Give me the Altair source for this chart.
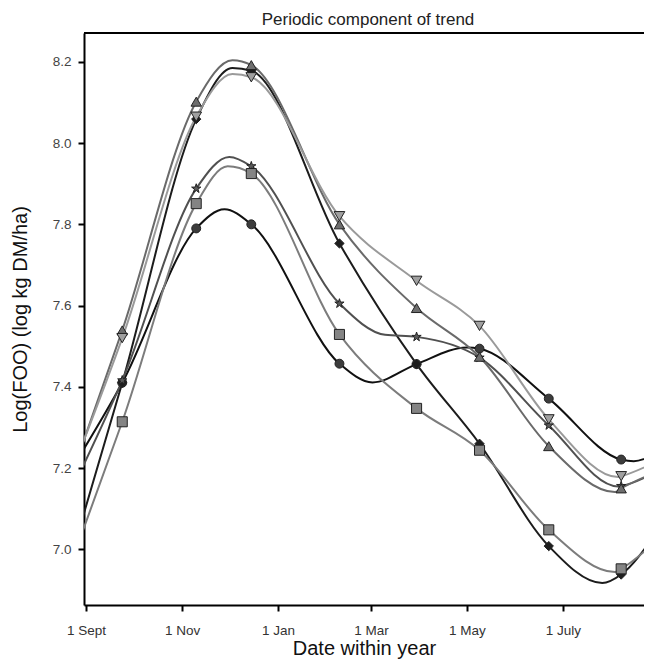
import altair as alt
import pandas as pd

# ---------------- data ----------------
SERIES = ["circle", "diamond", "star", "square", "tri_up", "tri_down"]

# marker sampling days (days after 1 Sept)
MARK_DAYS = [23, 70, 105, 161, 210, 250, 294, 340]
MARK_CIRCLE = [7.410, 7.790, 7.800, 7.457, 7.456, 7.494, 7.371, 7.221]
MARK_DIAMOND = [7.410, 8.059, 8.178, 7.753, 7.456, 7.260, 7.008, 6.938]
MARK_STAR = [7.416, 7.888, 7.943, 7.605, 7.523, 7.472, 7.305, 7.156]
MARK_SQUARE = [7.314, 7.851, 7.925, 7.529, 7.347, 7.244, 7.048, 6.952]
MARK_TRI_UP = [7.539, 8.102, 8.192, 7.800, 7.594, 7.474, 7.254, 7.150]
MARK_TRI_DOWN = [7.520, 8.065, 8.162, 7.820, 7.661, 7.550, 7.320, 7.180]

# smooth curves (day, value)
CURVE_CIRCLE_D = [-2, 23, 70, 88, 105, 161, 182, 210, 242, 250, 294, 340, 348, 362]
CURVE_CIRCLE_V = [7.243, 7.410, 7.790, 7.837, 7.800, 7.457, 7.411, 7.456, 7.497, 7.494, 7.371, 7.221, 7.217, 7.235]
CURVE_DIAMOND_D = [-2, 23, 70, 93, 105, 161, 210, 250, 294, 328, 340, 362]
CURVE_DIAMOND_V = [7.080, 7.410, 8.059, 8.185, 8.178, 7.753, 7.456, 7.260, 7.008, 6.917, 6.938, 7.040]
CURVE_STAR_D = [-2, 23, 70, 91, 105, 161, 190, 210, 250, 294, 338, 340, 362]
CURVE_STAR_V = [7.204, 7.416, 7.888, 7.966, 7.943, 7.605, 7.528, 7.523, 7.472, 7.305, 7.155, 7.156, 7.190]
CURVE_SQUARE_D = [-2, 23, 70, 90, 105, 161, 210, 250, 294, 336, 340, 362]
CURVE_SQUARE_V = [7.046, 7.314, 7.851, 7.943, 7.925, 7.529, 7.347, 7.244, 7.048, 6.944, 6.952, 7.020]
CURVE_TRI_UP_D = [-2, 23, 70, 93, 105, 161, 210, 250, 294, 336, 340, 362]
CURVE_TRI_UP_V = [7.262, 7.539, 8.102, 8.204, 8.192, 7.800, 7.594, 7.474, 7.254, 7.141, 7.150, 7.190]
CURVE_TRI_DOWN_D = [-2, 23, 70, 93, 105, 161, 210, 250, 294, 338, 340, 362]
CURVE_TRI_DOWN_V = [7.262, 7.520, 8.065, 8.170, 8.162, 7.820, 7.661, 7.550, 7.320, 7.178, 7.180, 7.215]

TICK_DAYS = [0, 61, 122, 181, 242, 303]
TICK_LABELS = ["1 Sept", "1 Nov", "1 Jan", "1 Mar", "1 May", "1 July"]
Y_TICKS = [7.0, 7.2, 7.4, 7.6, 7.8, 8.0, 8.2]
TITLE = ["Periodic component of trend"]

# ---------------- styles ----------------
LINE_COLORS = ["#111111", "#1c1c1c", "#505050", "#7c7c7c", "#6a6a6a", "#9a9a9a"]
FILL_COLORS = ["#3c3c3c", "#1e1e1e", "#5a5a5a", "#848484", "#6e6e6e", "#a0a0a0"]
STAR = "M0,-1L0.2245,-0.309L0.951,-0.309L0.363,0.118L0.588,0.809L0,0.382L-0.588,0.809L-0.363,0.118L-0.951,-0.309L-0.2245,-0.309Z"
SHAPES = ["circle", "diamond", STAR, "square", "triangle-up", "triangle-down"]
SIZES = [80, 115, 140, 80, 90, 90]

marks = {
    "circle": MARK_CIRCLE, "diamond": MARK_DIAMOND, "star": MARK_STAR,
    "square": MARK_SQUARE, "tri_up": MARK_TRI_UP, "tri_down": MARK_TRI_DOWN,
}
curves = {
    "circle": (CURVE_CIRCLE_D, CURVE_CIRCLE_V), "diamond": (CURVE_DIAMOND_D, CURVE_DIAMOND_V),
    "star": (CURVE_STAR_D, CURVE_STAR_V), "square": (CURVE_SQUARE_D, CURVE_SQUARE_V),
    "tri_up": (CURVE_TRI_UP_D, CURVE_TRI_UP_V), "tri_down": (CURVE_TRI_DOWN_D, CURVE_TRI_DOWN_V),
}

mark_rows = []
for s in SERIES:
    for d, v in zip(MARK_DAYS, marks[s]):
        mark_rows.append({"series": s, "day": d, "value": v})
curve_rows = []
for s in SERIES:
    ds, vs = curves[s]
    for d, v in zip(ds, vs):
        curve_rows.append({"series": s, "day": d, "value": v})
mark_df = pd.DataFrame(mark_rows)
curve_df = pd.DataFrame(curve_rows)

label_expr = ""
for d, l in zip(TICK_DAYS, TICK_LABELS):
    label_expr += f"datum.value == {d} ? '{l}' : "
label_expr += "''"

W, H = 560, 572
FONT = "Liberation Sans"

x_scale = alt.Scale(domain=[-1.3, 354.5], nice=False, zero=False)
y_scale = alt.Scale(domain=[6.863, 8.271], nice=False, zero=False)

x_axis = alt.Axis(values=TICK_DAYS, labelExpr=label_expr, grid=False,
                  title="Date within year", titleFontSize=20, titleFont=FONT,
                  titleFontWeight="normal", titleColor="#111",
                  titleY=49, titleBaseline="alphabetic",
                  labelFont=FONT, labelFontSize=13.5, labelColor="#333", labelPadding=12,
                  tickSize=6, tickWidth=2, tickColor="#000",
                  domainColor="#000", domainWidth=2, labelFlush=False)
y_axis = alt.Axis(values=Y_TICKS, format=".1f", grid=False,
                  title="Log(FOO) (log kg DM/ha)", titleFontSize=20, titleFont=FONT,
                  titleFontWeight="normal", titleColor="#111",
                  titleX=-64, titleBaseline="middle",
                  labelFont=FONT, labelFontSize=13.5, labelColor="#444", labelPadding=7,
                  tickSize=6, tickWidth=2, tickColor="#000",
                  domainColor="#000", domainWidth=2)

color_scale = alt.Scale(domain=SERIES, range=LINE_COLORS)
fill_scale = alt.Scale(domain=SERIES, range=FILL_COLORS)
shape_scale = alt.Scale(domain=SERIES, range=SHAPES)
size_scale = alt.Scale(domain=SERIES, range=SIZES)

lines = alt.Chart(curve_df).mark_line(interpolate="monotone", strokeWidth=2, clip=True).encode(
    x=alt.X("day:Q", scale=x_scale, axis=x_axis),
    y=alt.Y("value:Q", scale=y_scale, axis=y_axis),
    color=alt.Color("series:N", scale=color_scale, legend=None),
    detail="series:N",
)

points = alt.Chart(mark_df).mark_point(filled=True, opacity=1, strokeWidth=1, stroke="#222").encode(
    x=alt.X("day:Q", scale=x_scale),
    y=alt.Y("value:Q", scale=y_scale),
    fill=alt.Fill("series:N", scale=fill_scale, legend=None),
    shape=alt.Shape("series:N", scale=shape_scale, legend=None),
    size=alt.Size("series:N", scale=size_scale, legend=None),
)

top_rule = alt.Chart(pd.DataFrame({"a": [0]})).mark_rule(color="#000", strokeWidth=2).encode(
    x=alt.value(0), x2=alt.value(W), y=alt.value(0)
)

title_text = alt.Chart(pd.DataFrame({"t": TITLE})).mark_text(
    font=FONT, fontSize=17, color="#222", align="center", baseline="alphabetic"
).encode(x=alt.value(284), y=alt.value(-8), text="t:N")

chart = alt.layer(lines, points, top_rule, title_text).properties(
    width=W, height=H,
    autosize=alt.AutoSizeParams(type="none"),
    padding={"left": 76, "top": 25, "right": 0, "bottom": 54},
).configure_view(strokeWidth=0).resolve_scale(color="independent")

chart.save("out.html", embed_options={"renderer": "svg", "actions": False})
